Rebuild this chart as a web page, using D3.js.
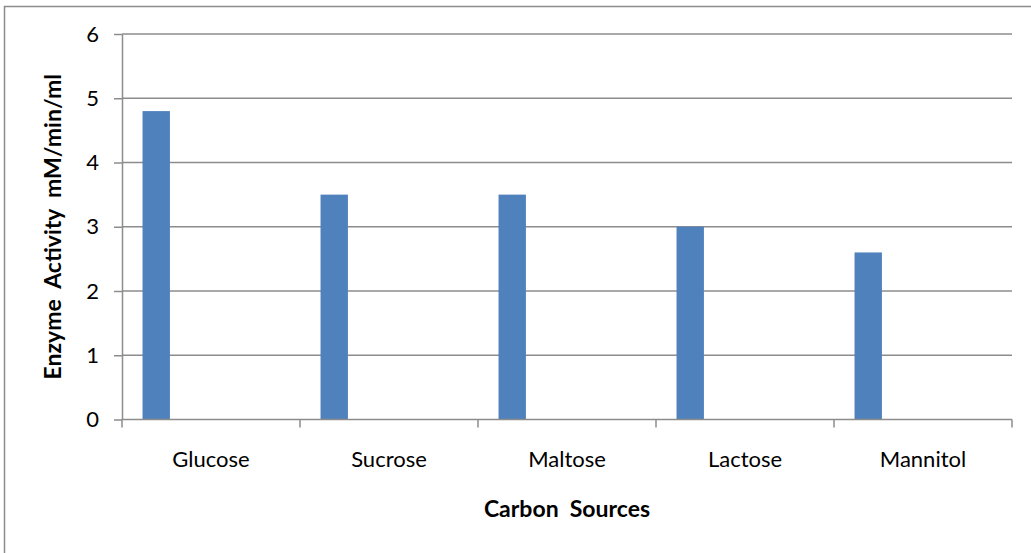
<!DOCTYPE html>
<html>
<head>
<meta charset="utf-8">
<script src="https://cdn.jsdelivr.net/npm/d3@7"></script>
<style>
  html, body { margin: 0; padding: 0; background: #fff; }
  svg { display: block; }
  text { font-family: Lato, "Open Sans", sans-serif; fill: #000; }
</style>
</head>
<body>
<svg id="chart" width="1031" height="553"></svg>
<script>
// Enzyme activity per carbon source
const categories = ["Glucose", "Sucrose", "Maltose", "Lactose", "Mannitol"];
const activity = [4.8, 3.5, 3.5, 3.0, 2.6];
const yTicks = [0, 1, 2, 3, 4, 5, 6];
// clustered layout slots per category (only the first one holds data)
const seriesSlots = [0, 1, 2, 3, 4];

const W = 1031, H = 553;
const margin = { left: 122, right: 19, top: 34, bottom: 133.5 };
const svg = d3.select("#chart");

// outer chart frame (runs past the right and bottom edges)
svg.append("rect")
  .attr("x", 4.5).attr("y", 6.5)
  .attr("width", W + 10).attr("height", H + 10)
  .attr("fill", "none").attr("stroke", "#8c8c8c").attr("stroke-width", 1.5);

const x = d3.scaleBand().domain(categories)
  .range([margin.left, W - margin.right]).padding(0);
const slot = d3.scaleBand().domain(seriesSlots)
  .range([0, x.bandwidth()]).paddingInner(0).paddingOuter(0.75);
const y = d3.scaleLinear().domain([0, 6])
  .range([H - margin.bottom, margin.top]);

const grey = "#8c8c8c";
const tickFont = 22;
const titleFont = 23;

// horizontal gridlines
svg.append("g").selectAll("line").data(yTicks.filter(d => d > 0)).join("line")
  .attr("x1", margin.left).attr("x2", W - margin.right)
  .attr("y1", d => y(d)).attr("y2", d => y(d))
  .attr("stroke", grey).attr("stroke-width", 1.5);

// bars
svg.append("g").selectAll("rect").data(activity).join("rect")
  .attr("x", (d, i) => x(categories[i]) + slot(0))
  .attr("width", slot.bandwidth())
  .attr("y", d => y(d))
  .attr("height", d => y(0) - y(d))
  .attr("fill", "#4f81bd");

// y axis
const yAxis = svg.append("g")
  .attr("transform", `translate(${margin.left},0)`)
  .call(d3.axisLeft(y).tickValues(yTicks).tickFormat(d3.format("d"))
    .tickSizeInner(8).tickSizeOuter(0).tickPadding(15));
yAxis.select(".domain").attr("stroke", grey).attr("stroke-width", 1.5);
yAxis.selectAll(".tick line").attr("stroke", grey).attr("stroke-width", 1.5);
yAxis.selectAll(".tick text").attr("font-size", tickFont).attr("fill", "#000")
  .attr("font-family", "Lato, sans-serif");

// x axis
const xEdges = categories.map(c => x(c)).concat([W - margin.right]);
const xAxisG = svg.append("g");
xAxisG.append("line")
  .attr("x1", margin.left).attr("x2", W - margin.right)
  .attr("y1", y(0)).attr("y2", y(0))
  .attr("stroke", grey).attr("stroke-width", 1.5);
xAxisG.selectAll("line.tk").data(xEdges).join("line").attr("class", "tk")
  .attr("x1", d => d).attr("x2", d => d)
  .attr("y1", y(0)).attr("y2", y(0) + 8)
  .attr("stroke", grey).attr("stroke-width", 1.5);
xAxisG.selectAll("text").data(categories).join("text")
  .attr("x", d => x(d) + x.bandwidth() / 2)
  .attr("y", y(0) + 47)
  .attr("text-anchor", "middle")
  .attr("font-size", tickFont)
  .text(d => d);

// axis titles
svg.append("text")
  .attr("x", margin.left + (W - margin.right - margin.left) / 2)
  .attr("y", 517)
  .attr("text-anchor", "middle")
  .attr("font-size", titleFont).attr("font-weight", "bold")
  .style("white-space", "pre")
  .text("Carbon  Sources");

svg.append("text")
  .attr("transform", `translate(61,${(y(0) + y(6)) / 2}) rotate(-90)`)
  .attr("text-anchor", "middle")
  .attr("font-size", titleFont).attr("font-weight", "bold")
  .style("white-space", "pre")
  .text("Enzyme  Activity  mM/min/ml");
</script>
</body>
</html>
